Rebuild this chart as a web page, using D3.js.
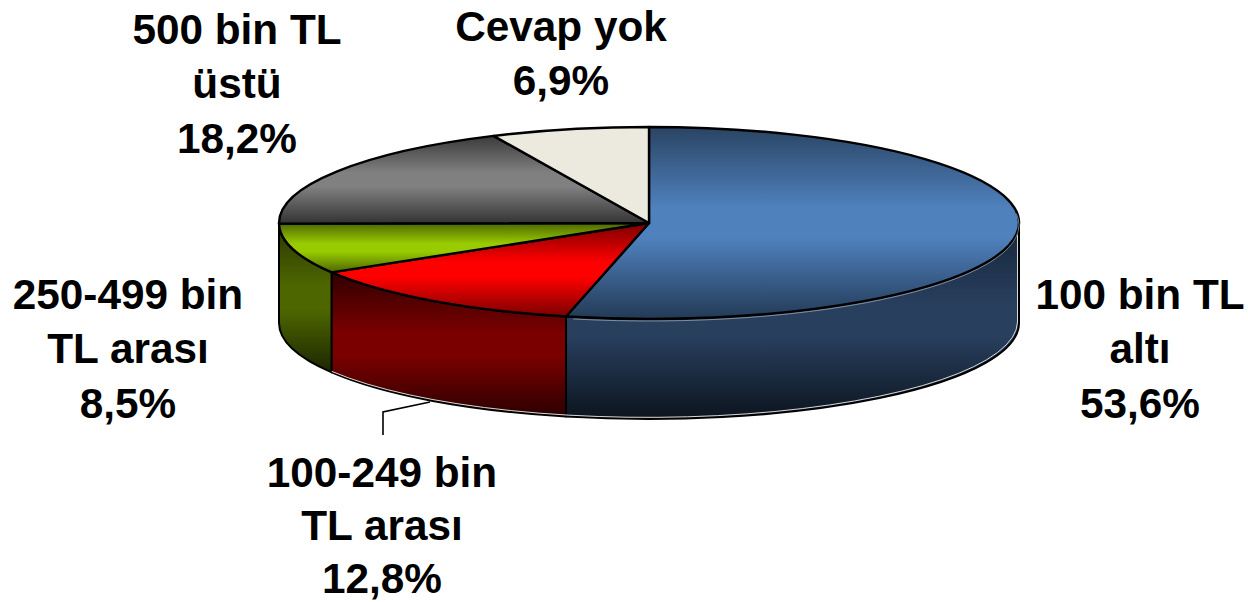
<!DOCTYPE html>
<html><head><meta charset="utf-8">
<script src="https://cdn.jsdelivr.net/npm/d3@7"></script>
<style>html,body{margin:0;padding:0;background:#fff}svg{display:block}</style>
</head><body><svg id="c" width="1248" height="602"></svg>
<script>
const categories = ["100 bin TL altı","100-249 bin TL arası","250-499 bin TL arası","500 bin TL üstü","Cevap yok"];
const values = [53.6,12.8,8.5,18.2,6.9];
const labelLines = [["100 bin TL","altı","53,6%"],["100-249 bin","TL arası","12,8%"],["250-499 bin","TL arası","8,5%"],["500 bin TL","üstü","18,2%"],["Cevap yok","6,9%"]];
const labelCenters = [[1140,294],[382,472],[128,294],[237,29],[561,26]];
const labelSpacing = [54.5,53,54.5,54.5,54.5];
const topStops = [["#2a4463","#4f81bd","#4f81bd","#233a56"],["#7a0000","#ff0000","#ff0000","#7a0000"],["#4d6600","#99cc00","#99cc00","#4d6600"],["#3a3a3a","#808080","#808080","#333333"],["#eceadf","#eceadf","#eceadf","#eceadf"]];
const wallStops = [["#16253a","#283f5e","#283f5e","#0c141e"],["#300000","#7a0000","#7a0000","#2c0000"],["#2a3600","#4d6600","#4d6600","#1c2600"]];

const svg = d3.select("#c");
const x = d3.scaleLinear().domain([-1,1]).range([279,1019]);
const y = d3.scaleLinear().domain([-1,1]).range([127,319]);
const depth = 100, rx = 370, ry = 96;
const arcs = d3.pie().sort(null).value(d=>d)(values);
const pt = (a,dz=0)=>[x(Math.sin(a)), y(-Math.cos(a))+dz];
const defs = svg.append("defs");
function grad(id,s){
  const g = defs.append("linearGradient").attr("id",id).attr("x1",0).attr("y1",0).attr("x2",0).attr("y2",1);
  [0,.42,.58,1].forEach((o,i)=>g.append("stop").attr("offset",o).attr("stop-color",s[i]));
}
topStops.forEach((s,i)=>grad("t"+i,s));
wallStops.forEach((s,i)=>grad("w"+i,s));

const wallRange = [[Math.PI/2,null],[null,null],[null,3*Math.PI/2]];
function wallPath(a0,a1){
  const [xa,ya]=pt(a0),[xb,yb]=pt(a1);
  return `M${xa},${ya}A${rx},${ry} 0 0 1 ${xb},${yb}L${xb},${yb+depth}A${rx},${ry} 0 0 0 ${xa},${ya+depth}Z`;
}
const wg = svg.append("g");
[2,1,0].forEach(i=>{
  const a0 = wallRange[i][0] ?? arcs[i].startAngle, a1 = wallRange[i][1] ?? arcs[i].endAngle;
  wg.append("path").attr("d",wallPath(a0,a1)).attr("fill",`url(#w${i})`).attr("stroke","#000").attr("stroke-width",2).attr("stroke-linejoin","round");
});
// thin light bevel just inside the wall's outer edge
const right = pt(Math.PI/2), bevelEnd = pt(arcs[2].startAngle, depth-1);
svg.append("path").attr("d",`M${right[0]-1.5},${right[1]+8}L${right[0]-1.5},${right[1]+depth-1}A${rx},${ry} 0 0 1 ${bevelEnd[0]},${bevelEnd[1]}`)
  .attr("fill","none").attr("stroke","#d8d8d8").attr("stroke-width",1);
// tops
const tg = svg.append("g");
arcs.forEach((d,i)=>{
  const [xa,ya]=pt(d.startAngle),[xb,yb]=pt(d.endAngle);
  const large = d.endAngle-d.startAngle>Math.PI?1:0;
  tg.append("path").attr("d",`M${x(0)},${y(0)}L${xa},${ya}A${rx},${ry} 0 ${large} 1 ${xb},${yb}Z`)
    .attr("fill",`url(#t${i})`).attr("stroke","#000").attr("stroke-width",2.4).attr("stroke-linejoin","round");
});
// light line under the front edge of the blue top
const lineA = pt(Math.PI/2-0.12, 2), lineB = pt(arcs[0].endAngle-0.02, 2);
svg.append("path").attr("d",`M${lineA[0]},${lineA[1]}A${rx},${ry} 0 0 1 ${lineB[0]},${lineB[1]}`)
  .attr("fill","none").attr("stroke","#c8d0da").attr("stroke-width",1).attr("opacity",.55);
// leader line
svg.append("polyline").attr("points","383,435 383,412 430,402").attr("fill","none").attr("stroke","#000").attr("stroke-width",1.6);
// labels
const lg = svg.append("g").attr("font-family","'Liberation Sans',Arial,sans-serif").attr("font-weight","bold").attr("font-size",42.3).attr("text-anchor","middle").attr("fill","#000");
labelLines.forEach((ls,i)=>{
  ls.forEach((t,j)=>lg.append("text").attr("x",labelCenters[i][0]).attr("y",labelCenters[i][1]+j*labelSpacing[i]).attr("dy","0.35em").text(t));
});
</script></body></html>
